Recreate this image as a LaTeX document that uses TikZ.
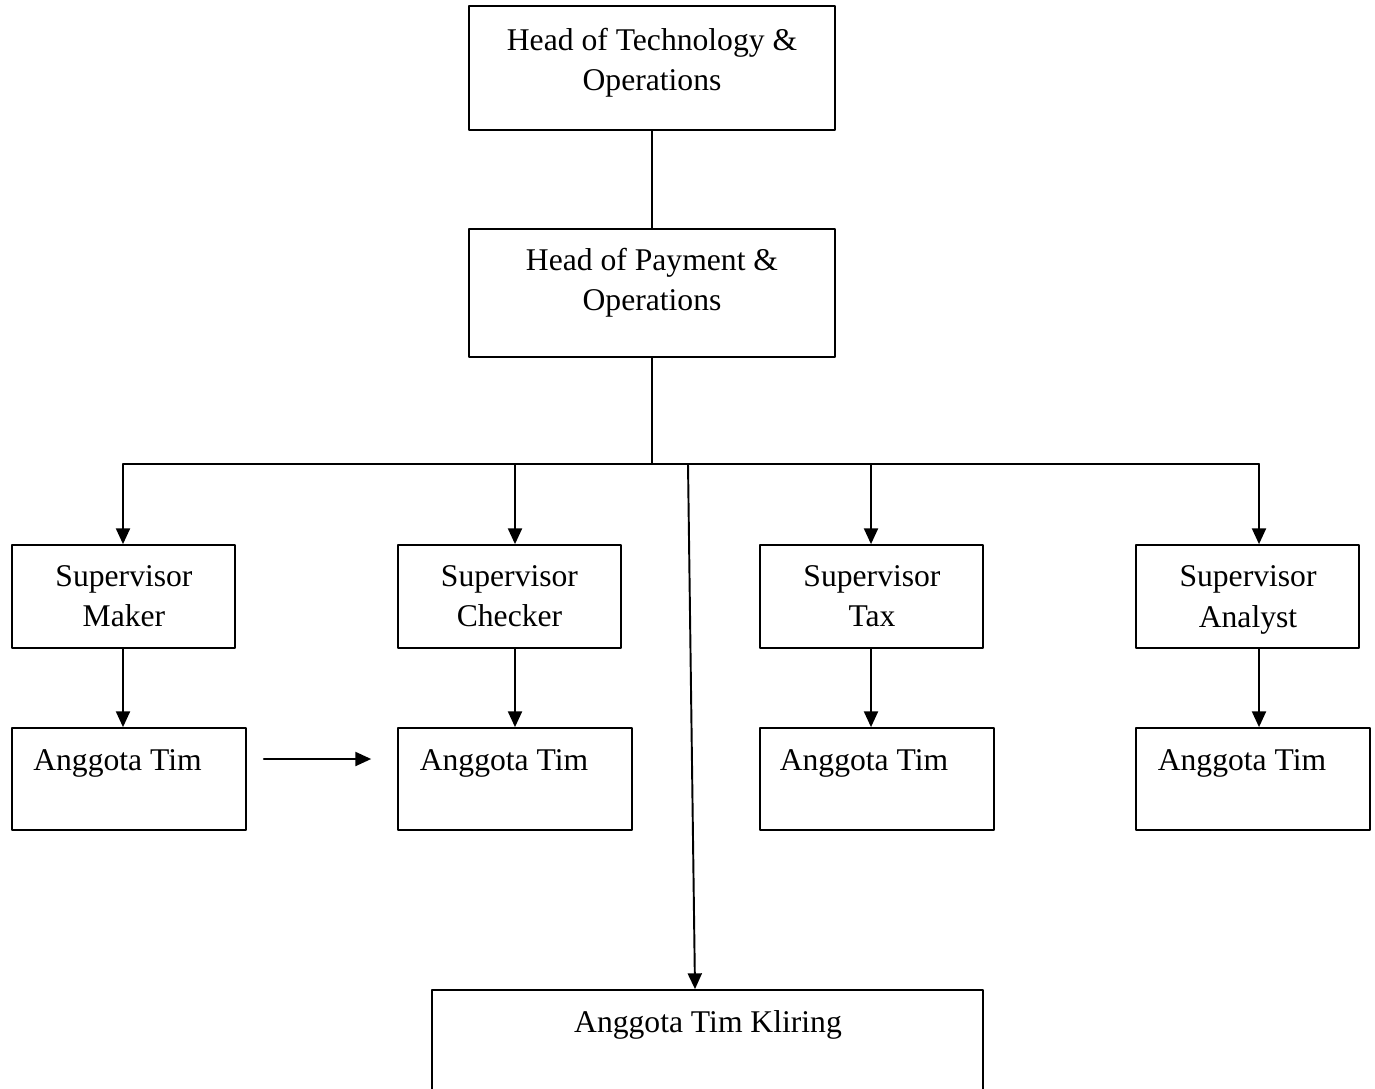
\documentclass[tikz,border=0pt]{standalone}
\usepackage{fontspec}
\setmainfont{Liberation Serif}
\usetikzlibrary{arrows.meta}
\begin{document}
\begin{tikzpicture}[line cap=round,line join=round,>={Triangle[width=8pt,length=9pt]},x=.02cm,y=-.02cm,
  box/.style={draw,line width=1pt,inner sep=0pt},
  lbl/.style={align=center,font=\fontsize{18}{23}\selectfont,inner sep=0pt},
  arr/.style={->,line width=1.1pt}]
\useasboundingbox (0,0) rectangle (1375,1088);
\clip (0,0) rectangle (1375,1088);
% heads
\node[box,minimum width=7.32cm,minimum height=2.48cm] (tech) at (652,68) {};
\node[lbl] (tech-t) at (652,63) {Head of Technology \&\\Operations};
\node[box,minimum width=7.32cm,minimum height=2.56cm] (pay) at (652,293) {};
\node[lbl] (pay-t) at (652,283) {Head of Payment \&\\Operations};
% supervisors
\node[box,minimum width=4.46cm,minimum height=2.06cm] (maker) at (123.5,596.5) {};
\node[box,minimum width=4.46cm,minimum height=2.06cm] (checker) at (509.5,596.5) {};
\node[box,minimum width=4.46cm,minimum height=2.06cm] (tax) at (871.5,596.5) {};
\node[box,minimum width=4.46cm,minimum height=2.06cm] (analyst) at (1247.5,596.5) {};
\node[lbl] (maker-t) at (124,596) {Supervisor\\Maker};
\node[lbl] (checker-t) at (509.5,596) {Supervisor\\Checker};
\node[lbl] (tax-t) at (872,596) {Supervisor\\Tax};
\node[lbl] (analyst-t) at (1248,600) {Supervisor\\Analyst};
% team members
\node[box,minimum width=4.68cm,minimum height=2.04cm] (timA) at (129,779) {};
\node[box,minimum width=4.68cm,minimum height=2.04cm] (timB) at (515,779) {};
\node[box,minimum width=4.68cm,minimum height=2.04cm] (timC) at (877,779) {};
\node[box,minimum width=4.68cm,minimum height=2.04cm] (timD) at (1253,779) {};
\node[lbl] (timA-t) at (117.5,763) {Anggota Tim};
\node[lbl] (timB-t) at (504,763) {Anggota Tim};
\node[lbl] (timC-t) at (864,763) {Anggota Tim};
\node[lbl] (timD-t) at (1242,763) {Anggota Tim};
\node[box,minimum width=11.02cm,minimum height=2.8cm] (kliring) at (707.5,1060) {};
\node[lbl] (kliring-t) at (708,1025) {Anggota Tim Kliring};
% connectors
\coordinate (bus) at (652,464);
\coordinate (c1) at (123,464);
\coordinate (c2) at (515,464);
\coordinate (c3) at (871,464);
\coordinate (c4) at (1259,464);
\coordinate (k0) at (688,464);
\draw[line width=1pt] (tech.south) -- (pay.south |- tech.south) -- (pay.north);
\draw[line width=1pt] (pay.south) -- (bus);
\draw[line width=1pt] (c1) -- (c4);
\draw[arr] (c1) -- (c1 |- maker.north);
\draw[arr] (c2) -- (c2 |- checker.north);
\draw[arr] (c3) -- (c3 |- tax.north);
\draw[arr] (c4) -- (c4 |- analyst.north);
\draw[arr] (c1 |- maker.south) -- (c1 |- timA.north);
\draw[arr] (c2 |- checker.south) -- (c2 |- timB.north);
\draw[arr] (c3 |- tax.south) -- (c3 |- timC.north);
\draw[arr] (c4 |- analyst.south) -- (c4 |- timD.north);
\draw[arr] (k0) -- ([xshift=-.25cm]kliring.north);
\draw[arr] ([xshift=.34cm,yshift=.4cm]timA.east) -- ([xshift=-.52cm,yshift=.4cm]timB.west);
\end{tikzpicture}
\end{document}
